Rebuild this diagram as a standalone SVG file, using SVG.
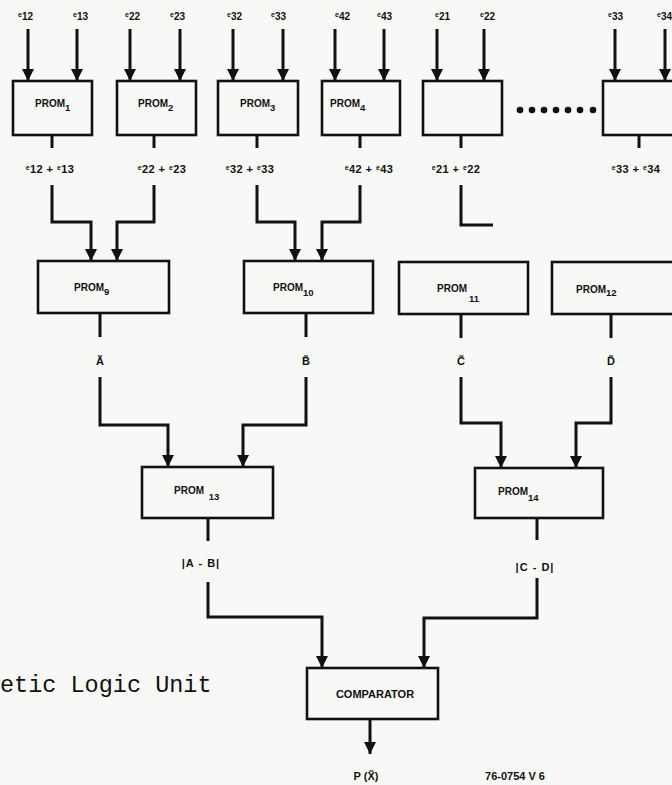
<svg xmlns="http://www.w3.org/2000/svg" width="672" height="785" viewBox="0 0 672 785">
<style>
.bg{fill:#f8f8f6}
.box{fill:none;stroke:#111;stroke-width:2.6}
.wire{fill:none;stroke:#111;stroke-width:3}
.arr{fill:none;stroke:#111;stroke-width:3;marker-end:url(#ah)}
.t{font-family:"Liberation Sans",Arial,sans-serif;font-weight:bold;font-size:10px;fill:#111}
.e{font-size:7px}
.sub{font-size:9.5px}
.tt{font-family:"Liberation Sans",Arial,sans-serif;font-weight:bold;font-size:11px;fill:#111;text-anchor:middle}
.sum{letter-spacing:0.4px}
.mono{font-family:"Liberation Mono","Courier New",monospace;font-size:23.5px;fill:#111}
</style>
<defs>
<marker id="ah" markerUnits="userSpaceOnUse" markerWidth="12" markerHeight="12" viewBox="0 0 12 12" refX="12" refY="6" orient="auto">
<path d="M0,0 L12,6 L0,12 Z" fill="#111"/>
</marker>
</defs>
<rect class="bg" x="0" y="0" width="672" height="785"/>

<g id="inputs">
<text class="t" x="18" y="20"><tspan class="e" dy="-3">e</tspan><tspan dy="3">12</tspan></text>
<text class="t" x="73" y="20"><tspan class="e" dy="-3">e</tspan><tspan dy="3">13</tspan></text>
<text class="t" x="125" y="20"><tspan class="e" dy="-3">e</tspan><tspan dy="3">22</tspan></text>
<text class="t" x="170" y="20"><tspan class="e" dy="-3">e</tspan><tspan dy="3">23</tspan></text>
<text class="t" x="227" y="20"><tspan class="e" dy="-3">e</tspan><tspan dy="3">32</tspan></text>
<text class="t" x="271" y="20"><tspan class="e" dy="-3">e</tspan><tspan dy="3">33</tspan></text>
<text class="t" x="335" y="20"><tspan class="e" dy="-3">e</tspan><tspan dy="3">42</tspan></text>
<text class="t" x="377" y="20"><tspan class="e" dy="-3">e</tspan><tspan dy="3">43</tspan></text>
<text class="t" x="435" y="20"><tspan class="e" dy="-3">e</tspan><tspan dy="3">21</tspan></text>
<text class="t" x="480" y="20"><tspan class="e" dy="-3">e</tspan><tspan dy="3">22</tspan></text>
<text class="t" x="608" y="20"><tspan class="e" dy="-3">e</tspan><tspan dy="3">33</tspan></text>
<text class="t" x="657" y="20"><tspan class="e" dy="-3">e</tspan><tspan dy="3">34</tspan></text>
</g>

<g id="connectors">
<line class="arr" x1="28" y1="29" x2="28" y2="81"/>
<line class="arr" x1="77" y1="29" x2="77" y2="81"/>
<line class="arr" x1="130" y1="29" x2="130" y2="81"/>
<line class="arr" x1="180" y1="29" x2="180" y2="81"/>
<line class="arr" x1="233" y1="29" x2="233" y2="81"/>
<line class="arr" x1="283" y1="29" x2="283" y2="81"/>
<line class="arr" x1="335" y1="29" x2="335" y2="81"/>
<line class="arr" x1="384" y1="29" x2="384" y2="81"/>
<line class="arr" x1="437" y1="29" x2="437" y2="81"/>
<line class="arr" x1="484" y1="29" x2="484" y2="81"/>
<line class="arr" x1="615" y1="29" x2="615" y2="81"/>
<line class="arr" x1="665" y1="29" x2="665" y2="81"/>
<line class="wire" x1="52" y1="135" x2="52" y2="148"/>
<line class="wire" x1="154" y1="135" x2="154" y2="148"/>
<line class="wire" x1="257" y1="135" x2="257" y2="148"/>
<line class="wire" x1="360" y1="135" x2="360" y2="148"/>
<line class="wire" x1="461" y1="135" x2="461" y2="148"/>
<line class="wire" x1="639" y1="135" x2="639" y2="148"/>
<path class="arr" d="M52,185 V222 H91 V261"/>
<path class="arr" d="M154,185 V222 H117 V261"/>
<path class="arr" d="M257,185 V222 H295 V261"/>
<path class="arr" d="M360,185 V222 H322 V261"/>
<path class="wire" d="M461,185 V225 H493"/>
<line class="wire" x1="100" y1="313" x2="100" y2="337"/>
<line class="wire" x1="306" y1="313" x2="306" y2="337"/>
<line class="wire" x1="461" y1="314" x2="461" y2="338"/>
<line class="wire" x1="611" y1="314" x2="611" y2="338"/>
<path class="arr" d="M100,377 V425 H168 V467"/>
<path class="arr" d="M306,377 V425 H243 V467"/>
<path class="arr" d="M461,377 V423 H501 V468"/>
<path class="arr" d="M611,377 V423 H576 V468"/>
<line class="wire" x1="208" y1="518" x2="208" y2="541"/>
<line class="wire" x1="537" y1="518" x2="537" y2="540"/>
<path class="arr" d="M208,582 V617 H322 V668"/>
<path class="arr" d="M537,578 V618 H424 V668"/>
<line class="arr" x1="370" y1="719" x2="370" y2="754"/>
</g>

<g id="prom1"><rect class="box" x="13" y="81" width="79" height="54"/><text class="t" x="35" y="107">PROM<tspan class="sub" dy="4">1</tspan></text></g>
<g id="prom2"><rect class="box" x="117" y="81" width="79" height="54"/><text class="t" x="138" y="107">PROM<tspan class="sub" dy="4">2</tspan></text></g>
<g id="prom3"><rect class="box" x="218" y="81" width="80" height="54"/><text class="t" x="240" y="107">PROM<tspan class="sub" dy="4">3</tspan></text></g>
<g id="prom4"><rect class="box" x="322" y="81" width="78" height="54"/><text class="t" x="330" y="107">PROM<tspan class="sub" dy="4">4</tspan></text></g>
<g id="box5"><rect class="box" x="423" y="81" width="79" height="54"/></g>
<g id="dots" fill="#111">
<circle cx="520" cy="110" r="3.3"/><circle cx="532" cy="110" r="3.3"/><circle cx="544" cy="110" r="3.3"/><circle cx="556" cy="110" r="3.3"/><circle cx="568" cy="110" r="3.3"/><circle cx="580" cy="110" r="3.3"/><circle cx="593" cy="110" r="3.3"/>
</g>
<g id="box6"><rect class="box" x="603" y="81" width="80" height="54"/></g>

<g id="sums">
<text class="tt sum" x="50" y="173"><tspan class="e" dy="-3">e</tspan><tspan dy="3">12</tspan> + <tspan class="e" dy="-3">e</tspan><tspan dy="3">13</tspan></text>
<text class="tt sum" x="162" y="173"><tspan class="e" dy="-3">e</tspan><tspan dy="3">22</tspan> + <tspan class="e" dy="-3">e</tspan><tspan dy="3">23</tspan></text>
<text class="tt sum" x="250" y="173"><tspan class="e" dy="-3">e</tspan><tspan dy="3">32</tspan> + <tspan class="e" dy="-3">e</tspan><tspan dy="3">33</tspan></text>
<text class="tt sum" x="369" y="173"><tspan class="e" dy="-3">e</tspan><tspan dy="3">42</tspan> + <tspan class="e" dy="-3">e</tspan><tspan dy="3">43</tspan></text>
<text class="tt sum" x="456" y="173"><tspan class="e" dy="-3">e</tspan><tspan dy="3">21</tspan> + <tspan class="e" dy="-3">e</tspan><tspan dy="3">22</tspan></text>
<text class="tt sum" x="636" y="173"><tspan class="e" dy="-3">e</tspan><tspan dy="3">33</tspan> + <tspan class="e" dy="-3">e</tspan><tspan dy="3">34</tspan></text>
</g>

<g id="prom9"><rect class="box" x="38" y="261" width="131" height="52"/><text class="t" x="74" y="291">PROM<tspan class="sub" dy="4">9</tspan></text></g>
<g id="prom10"><rect class="box" x="244" y="261" width="129" height="52"/><text class="t" x="273" y="291">PROM<tspan class="sub" dy="5">10</tspan></text></g>
<g id="prom11"><rect class="box" x="399" y="262" width="129" height="52"/><text class="t" x="437" y="292">PROM<tspan class="sub" dx="2" dy="10">11</tspan></text></g>
<g id="prom12"><rect class="box" x="552" y="262" width="130" height="52"/><text class="t" x="576" y="293">PROM<tspan class="sub" dy="3">12</tspan></text></g>

<g id="tildes">
<text class="tt" x="100" y="365">Ã</text>
<text class="tt" x="306" y="365">B̃</text>
<text class="tt" x="461" y="365">C̃</text>
<text class="tt" x="611" y="365">D̃</text>
</g>

<g id="prom13"><rect class="box" x="142" y="467" width="131" height="51"/><text class="t" x="174" y="494">PROM <tspan class="sub" dx="2" dy="6">13</tspan></text></g>
<g id="prom14"><rect class="box" x="475" y="468" width="128" height="50"/><text class="t" x="498" y="495">PROM<tspan class="sub" dy="6">14</tspan></text></g>

<g id="diffs">
<text class="tt" x="201" y="567" letter-spacing="1">|A - B|</text>
<text class="tt" x="535" y="571" letter-spacing="1">|C - D|</text>
</g>

<g id="comparator"><rect class="box" x="307" y="668" width="131" height="51"/><text class="tt" x="375" y="698">COMPARATOR</text></g>

<text class="tt" x="366" y="780">P (X̃)</text>
<text class="tt" x="515" y="780" font-size="9">76-0754 V 6</text>
<text class="mono" x="0" y="692">etic Logic Unit</text>
</svg>
